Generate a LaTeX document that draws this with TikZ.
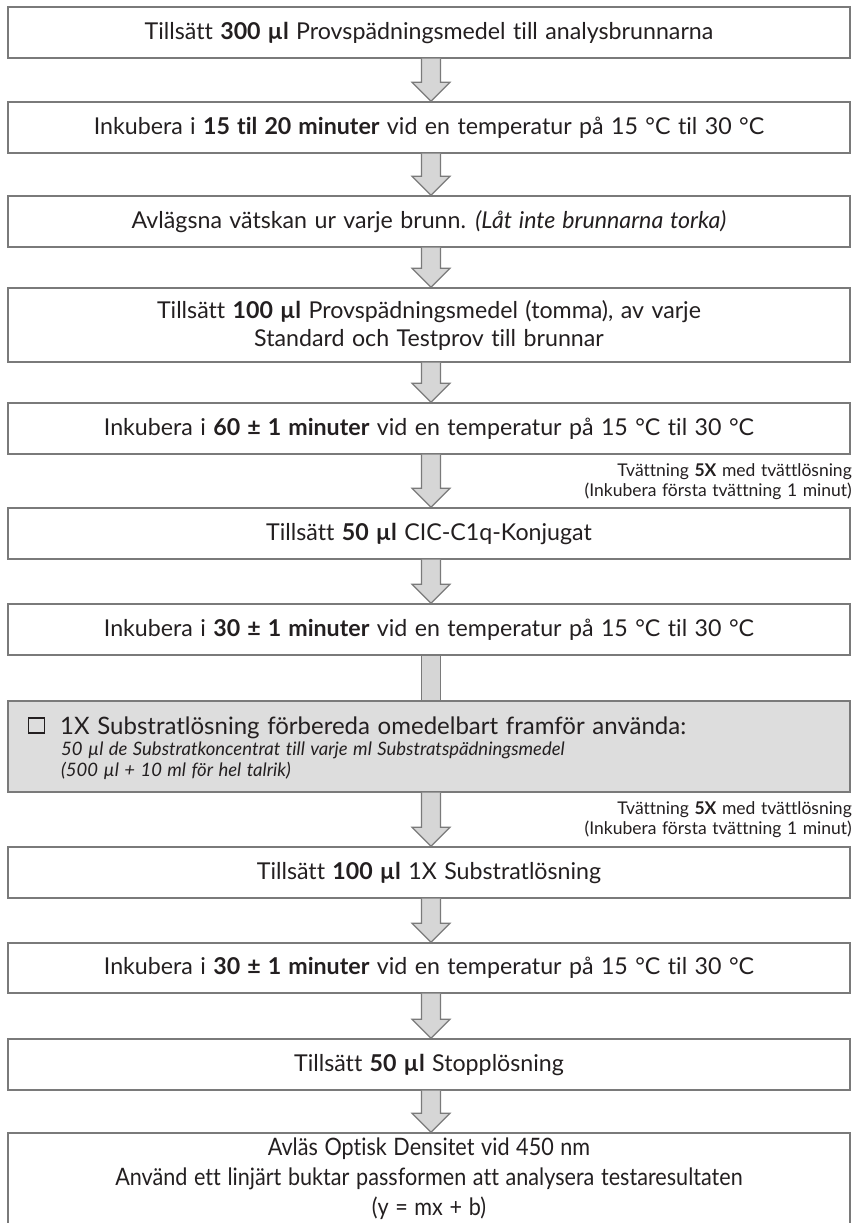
\documentclass[tikz,border=0pt]{standalone}
\usepackage{fontspec}
\setmainfont{Lato}[Ligatures=NoCommon, WordSpace=1.25]
\newfontfamily\condfont{Lato}[Ligatures=NoCommon, FakeStretch=0.9, WordSpace=1.2]
\usetikzlibrary{calc}
\definecolor{txt}{HTML}{231F20}
\definecolor{boxline}{HTML}{7A7A7A}
\definecolor{arrfill}{HTML}{D6D6D6}
\definecolor{arrline}{HTML}{7A7A7A}
\definecolor{grayfill}{HTML}{DDDDDD}
\tikzset{
  stepbox/.style={draw=boxline, line width=1.4pt, minimum width=842pt, inner sep=0pt,
    text=txt, font=\fontsize{23.2}{28}\selectfont, align=center},
  sidelabel/.style={anchor=base east, inner sep=0pt, text=txt, font=\fontsize{17.5}{20}\selectfont},
  graytext/.style={anchor=base west, inner sep=0pt, text=txt},
  arrfillstyle/.style={fill=arrfill},
  arrlinestyle/.style={draw=arrline, line width=1.2pt, line join=miter},
  chkbox/.style={draw=txt, line width=1.6pt, minimum width=16pt, minimum height=15pt, inner sep=0pt}
}
\newcommand\blockarrow[2]{%
  \fill[arrfillstyle] let \p1=(#1.south), \p2=(#2.north) in
    (\x1-7.5pt,\y1) -- (\x1-7.5pt,\y2+19pt) -- (\x1-17pt,\y2+19pt) -- (\x1+2pt,\y2)
    -- (\x1+21pt,\y2+19pt) -- (\x1+11.5pt,\y2+19pt) -- (\x1+11.5pt,\y1) -- cycle;
  \draw[arrlinestyle] let \p1=(#1.south), \p2=(#2.north) in
    (\x1-7.5pt,\y1) -- (\x1-7.5pt,\y2+19pt) -- (\x1-17pt,\y2+19pt) -- (\x1+2pt,\y2)
    -- (\x1+21pt,\y2+19pt) -- (\x1+11.5pt,\y2+19pt) -- (\x1+11.5pt,\y1);
}
\begin{document}
\begin{tikzpicture}[x=1pt,y=-1pt]
\useasboundingbox (0,0) rectangle (853,1223);
\fill[white] (0,0) rectangle (853,1223);

% boxes
\node[stepbox, minimum height=51pt] (b1) at (429,32.5) {Tillsätt \textbf{300 µl} Provspädningsmedel till analysbrunnarna};
\node[stepbox, minimum height=51pt] (b2) at (429,127.5) {Inkubera i \textbf{15 til 20 minuter} vid en temperatur på 15 °C til 30 °C};
\node[stepbox, minimum height=51pt] (b3) at (429,221.5) {Avlägsna vätskan ur varje brunn. \textit{(Låt inte brunnarna torka)}};
\node[stepbox, minimum height=74pt] (b4) at (429,325) {Tillsätt \textbf{100 µl} Provspädningsmedel (tomma), av varje\\Standard och Testprov till brunnar};
\node[stepbox, minimum height=51pt] (b5) at (429,428.5) {Inkubera i \textbf{60 ± 1 minuter} vid en temperatur på 15 °C til 30 °C};
\node[stepbox, minimum height=51pt] (b6) at (429,533.5) {Tillsätt \textbf{50 µl} CIC-C1q-Konjugat};
\node[stepbox, minimum height=51pt] (b7) at (429,629.5) {Inkubera i \textbf{30 ± 1 minuter} vid en temperatur på 15 °C til 30 °C};
\node[stepbox, fill=grayfill, minimum height=91pt] (g) at (429,746.5) {};
\node[stepbox, minimum height=51pt] (b8) at (429,872.5) {Tillsätt \textbf{100 µl} 1X Substratlösning};
\node[stepbox, minimum height=50pt] (b9) at (429,968) {Inkubera i \textbf{30 ± 1 minuter} vid en temperatur på 15 °C til 30 °C};
\node[stepbox, minimum height=51pt] (b10) at (429,1064.5) {Tillsätt \textbf{50 µl} Stopplösning};
\node[stepbox, minimum height=92pt, font=\condfont\fontsize{24}{30}\selectfont] (b11) at (429,1179) {Avläs Optisk Densitet vid 450 nm\\Använd ett linjärt buktar passformen att analysera testaresultaten\\(y = mx + b)};

% gray box content
\node[chkbox] (chk) at (36.5,725.5) {};
\node[graytext, font=\fontsize{24}{28}\selectfont] (g1) at (60,734) {1X Substratlösning förbereda omedelbart framför använda:};
\node[graytext, font=\itshape\fontsize{18.5}{21}\selectfont] (g2) at (61,755) {50 µl de Substratkoncentrat till varje ml Substratspädningsmedel};
\node[graytext, font=\itshape\fontsize{18.5}{21}\selectfont] (g3) at (61,776) {(500 µl + 10 ml för hel talrik)};

% arrows
\blockarrow{b1}{b2}
\blockarrow{b2}{b3}
\blockarrow{b3}{b4}
\blockarrow{b4}{b5}
\blockarrow{b5}{b6}
\blockarrow{b6}{b7}
\fill[arrfillstyle] let \p1=(b7.south), \p2=(g.north) in (\x1-7.5pt,\y1) rectangle (\x1+11.5pt,\y2);
\draw[arrlinestyle] let \p1=(b7.south), \p2=(g.north) in (\x1-7.5pt,\y1) -- (\x1-7.5pt,\y2) (\x1+11.5pt,\y1) -- (\x1+11.5pt,\y2);
\blockarrow{g}{b8}
\blockarrow{b8}{b9}
\blockarrow{b9}{b10}
\blockarrow{b10}{b11}

% side labels
\node[sidelabel] (s1a) at (852,476) {Tvättning \textbf{5X} med tvättlösning};
\node[sidelabel] (s1b) at (852,496) {(Inkubera första tvättning 1 minut)};
\node[sidelabel] (s2a) at (852,814) {Tvättning \textbf{5X} med tvättlösning};
\node[sidelabel] (s2b) at (852,834) {(Inkubera första tvättning 1 minut)};
\end{tikzpicture}
\end{document}
